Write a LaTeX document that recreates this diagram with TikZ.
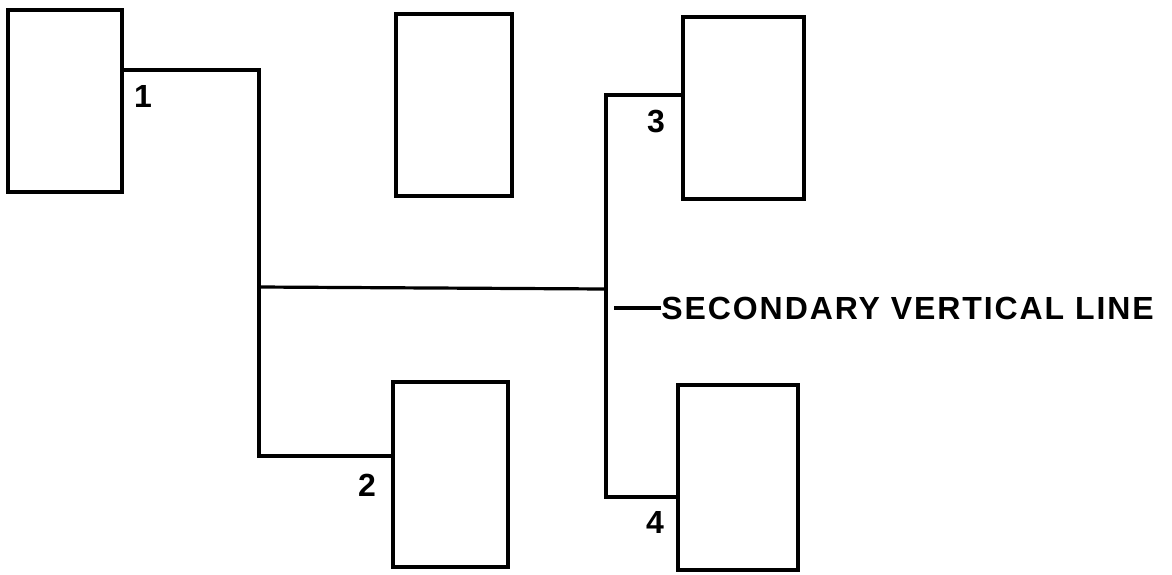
\documentclass[tikz,border=0pt]{standalone}
\usepackage{fontspec}
\setmainfont{Liberation Sans}
\newfontfamily\labfont[LetterSpace=6]{Liberation Sans}
\begin{document}
\begin{tikzpicture}[x=0.5pt,y=-0.5pt,
  box/.style={draw,line width=1.9pt,rectangle,inner sep=0pt,outer sep=0pt},
  wire/.style={line width=1.6pt,line join=miter},
  num/.style={inner sep=0pt,font=\bfseries\fontsize{16}{19}\selectfont},
  lab/.style={inner sep=0pt,anchor=west,font=\labfont\bfseries\fontsize{16}{19}\selectfont}]
\useasboundingbox (0,0) rectangle (1172,574);
\node[box,minimum width=57pt,minimum height=91pt] (A) at (65,101) {};
\node[box,minimum width=58pt,minimum height=91pt] (B) at (454,105) {};
\node[box,minimum width=60.5pt,minimum height=91pt] (C) at (743.5,108) {};
\node[box,minimum width=57.5pt,minimum height=92.5pt] (D) at (450.5,474.5) {};
\node[box,minimum width=60pt,minimum height=92.5pt] (E) at (738,477.5) {};
\coordinate (j1) at (259,70);
\coordinate (j2) at (259,456);
\coordinate (t1) at (259,287);
\coordinate (t2) at (606,289);
\coordinate (sTop) at (606,95);
\coordinate (sBot) at (606,497);
\coordinate (l1) at (614,308);
\draw[wire] (A.east |- j1) -| (j2) -- (D.west |- j2);
\draw[wire] (t1) -- (t2);
\draw[wire] (C.west |- sTop) -- (sTop) -- (sBot) -- (E.west |- sBot);
\node[lab] (L) at (661,308) {SECONDARY VERTICAL LINE};
\draw[wire] (l1) -- (L.west);
\node[num] (n1) at (143,96) {1};
\node[num] (n2) at (367,485) {2};
\node[num] (n3) at (656,122) {3};
\node[num] (n4) at (655,522) {4};
\end{tikzpicture}
\end{document}
